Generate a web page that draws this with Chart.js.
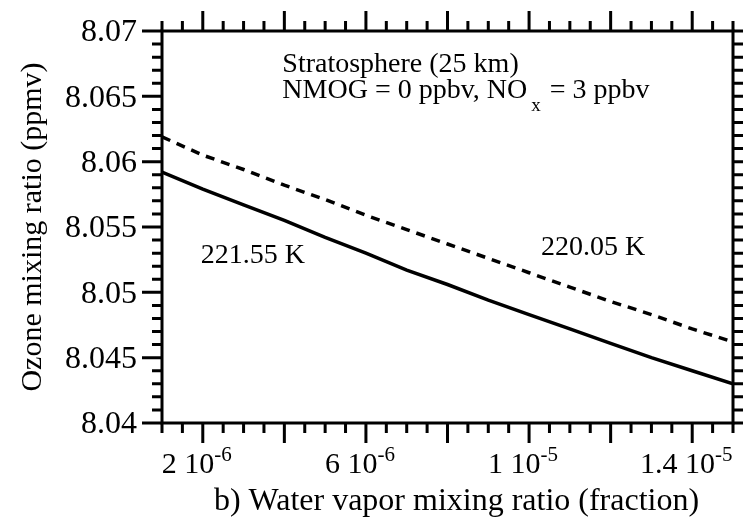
<!DOCTYPE html>
<html>
<head>
<meta charset="utf-8">
<script src="https://cdn.jsdelivr.net/npm/chart.js@4/dist/chart.umd.min.js"></script>
<style>
  html, body { margin: 0; padding: 0; background: #fff; }
  canvas { display: block; }
</style>
</head>
<body>
<canvas id="ozoneChart" width="746" height="524"></canvas>
<script>
// water vapor mixing ratio (fraction)
const waterVapor = [1e-6, 2e-6, 3e-6, 4e-6, 5e-6, 6e-6, 7e-6, 8e-6, 9e-6, 1e-5, 1.1e-5, 1.2e-5, 1.3e-5, 1.4e-5, 1.5e-5];
// ozone mixing ratio (ppmv) at two temperatures
const ozoneWarm = [8.0592, 8.0579, 8.0567, 8.0555, 8.0542, 8.0530, 8.0517, 8.0506, 8.0494, 8.0483, 8.0472, 8.0461, 8.0450, 8.0440, 8.0430];
const ozoneCool = [8.0619, 8.0605, 8.0594, 8.0582, 8.0571, 8.0559, 8.0548, 8.0537, 8.0526, 8.0515, 8.0504, 8.0493, 8.0483, 8.0472, 8.0462];

const yTickValues = [8.04, 8.045, 8.05, 8.055, 8.06, 8.065, 8.07];
const yTickLabels = ['8.04', '8.045', '8.05', '8.055', '8.06', '8.065', '8.07'];
const xTickValues = [2e-6, 6e-6, 1e-5, 1.4e-5];
const xTickMantissa = ['2', '6', '1', '1.4'];
const xTickExponent = ['-6', '-6', '-5', '-5'];

const FONT = '"Liberation Serif", "Times New Roman", serif';

function toPoints(xs, ys) {
  return xs.map((x, i) => ({ x: x, y: ys[i] }));
}

// frame, ticks, labels and notes drawn on top of the plot
const axesPlugin = {
  id: 'axesPlugin',
  afterDraw(chart) {
    const ctx = chart.ctx;
    const area = chart.chartArea;
    const xs = chart.scales.x;
    const ys = chart.scales.y;
    ctx.save();
    ctx.strokeStyle = '#000';
    ctx.fillStyle = '#000';
    ctx.lineWidth = 3;
    ctx.lineCap = 'butt';
    ctx.strokeRect(area.left, area.top, area.right - area.left, area.bottom - area.top);

    ctx.beginPath();
    // x ticks every 0.5e-6, long ones every 2e-6
    for (let i = 2; i <= 30; i++) {
      const px = xs.getPixelForValue(i * 5e-7);
      const len = i % 4 === 0 ? 20 : 10;
      ctx.moveTo(px, area.bottom);
      ctx.lineTo(px, area.bottom + len);
      ctx.moveTo(px, area.top);
      ctx.lineTo(px, area.top - len);
    }
    // y ticks every 0.001, long ones every 0.005 on the left
    for (let j = 0; j <= 30; j++) {
      const py = ys.getPixelForValue(8.04 + j * 0.001);
      const len = j % 5 === 0 ? 20 : 10;
      ctx.moveTo(area.left, py);
      ctx.lineTo(area.left - len, py);
      ctx.moveTo(area.right, py);
      ctx.lineTo(area.right + 10, py);
    }
    ctx.stroke();

    // y tick labels
    ctx.font = '32px ' + FONT;
    ctx.textAlign = 'right';
    ctx.textBaseline = 'middle';
    yTickValues.forEach((v, i) => {
      ctx.fillText(yTickLabels[i], area.left - 25, ys.getPixelForValue(v) + 2);
    });

    // x tick labels with exponent
    ctx.textAlign = 'left';
    ctx.textBaseline = 'alphabetic';
    xTickValues.forEach((v, i) => {
      const base = xTickMantissa[i] + ' 10';
      ctx.font = '30px ' + FONT;
      const wb = ctx.measureText(base).width;
      ctx.font = '21px ' + FONT;
      const ws = ctx.measureText(xTickExponent[i]).width;
      const start = xs.getPixelForValue(v) - (wb + ws) / 2 - 6;
      ctx.font = '30px ' + FONT;
      ctx.fillText(base, start, area.bottom + 50);
      ctx.font = '21px ' + FONT;
      ctx.fillText(xTickExponent[i], start + wb, area.bottom + 38);
    });

    // axis titles
    ctx.font = '32px ' + FONT;
    ctx.textAlign = 'center';
    ctx.fillText('b) Water vapor mixing ratio (fraction)', (area.left + area.right) / 2 + 9, area.bottom + 87);
    ctx.save();
    ctx.font = '30px ' + FONT;
    ctx.translate(41, (area.top + area.bottom) / 2);
    ctx.rotate(-Math.PI / 2);
    ctx.fillText('Ozone mixing ratio (ppmv)', 0, 0);
    ctx.restore();

    // notes inside the plot
    ctx.textAlign = 'left';
    ctx.font = '28px ' + FONT;
    const nx = xs.getPixelForValue(3.95e-6);
    ctx.fillText('Stratosphere (25 km)', nx, ys.getPixelForValue(8.0669));
    const l2y = ys.getPixelForValue(8.0649);
    const part1 = 'NMOG = 0 ppbv, NO';
    ctx.fillText(part1, nx, l2y);
    const w1 = ctx.measureText(part1).width;
    ctx.font = '19px ' + FONT;
    ctx.fillText('x', nx + w1 + 4, l2y + 13);
    const wx = ctx.measureText('x').width;
    ctx.font = '28px ' + FONT;
    ctx.fillText(' = 3 ppbv', nx + w1 + wx + 6, l2y);

    ctx.fillText('221.55 K', xs.getPixelForValue(1.95e-6), ys.getPixelForValue(8.05225));
    ctx.fillText('220.05 K', xs.getPixelForValue(1.029e-5), ys.getPixelForValue(8.05286));
    ctx.restore();
  }
};

const ctx = document.getElementById('ozoneChart').getContext('2d');
new Chart(ctx, {
  type: 'scatter',
  data: {
    datasets: [{
      label: '221.55 K',
      data: toPoints(waterVapor, ozoneWarm),
      showLine: true,
      borderColor: '#000',
      borderWidth: 3.5,
      pointRadius: 0,
      tension: 0
    }, {
      label: '220.05 K',
      data: toPoints(waterVapor, ozoneCool),
      showLine: true,
      borderColor: '#000',
      borderWidth: 3.5,
      borderDash: [9, 7],
      pointRadius: 0,
      tension: 0
    }]
  },
  options: {
    responsive: false,
    animation: false,
    devicePixelRatio: 1,
    layout: { padding: { left: 162, right: 13, top: 31, bottom: 101 } },
    plugins: { legend: { display: false }, tooltip: { enabled: false } },
    scales: {
      x: { type: 'linear', min: 1e-6, max: 1.5e-5, display: false },
      y: { type: 'linear', min: 8.04, max: 8.07, display: false }
    }
  },
  plugins: [axesPlugin]
});
</script>
</body>
</html>
